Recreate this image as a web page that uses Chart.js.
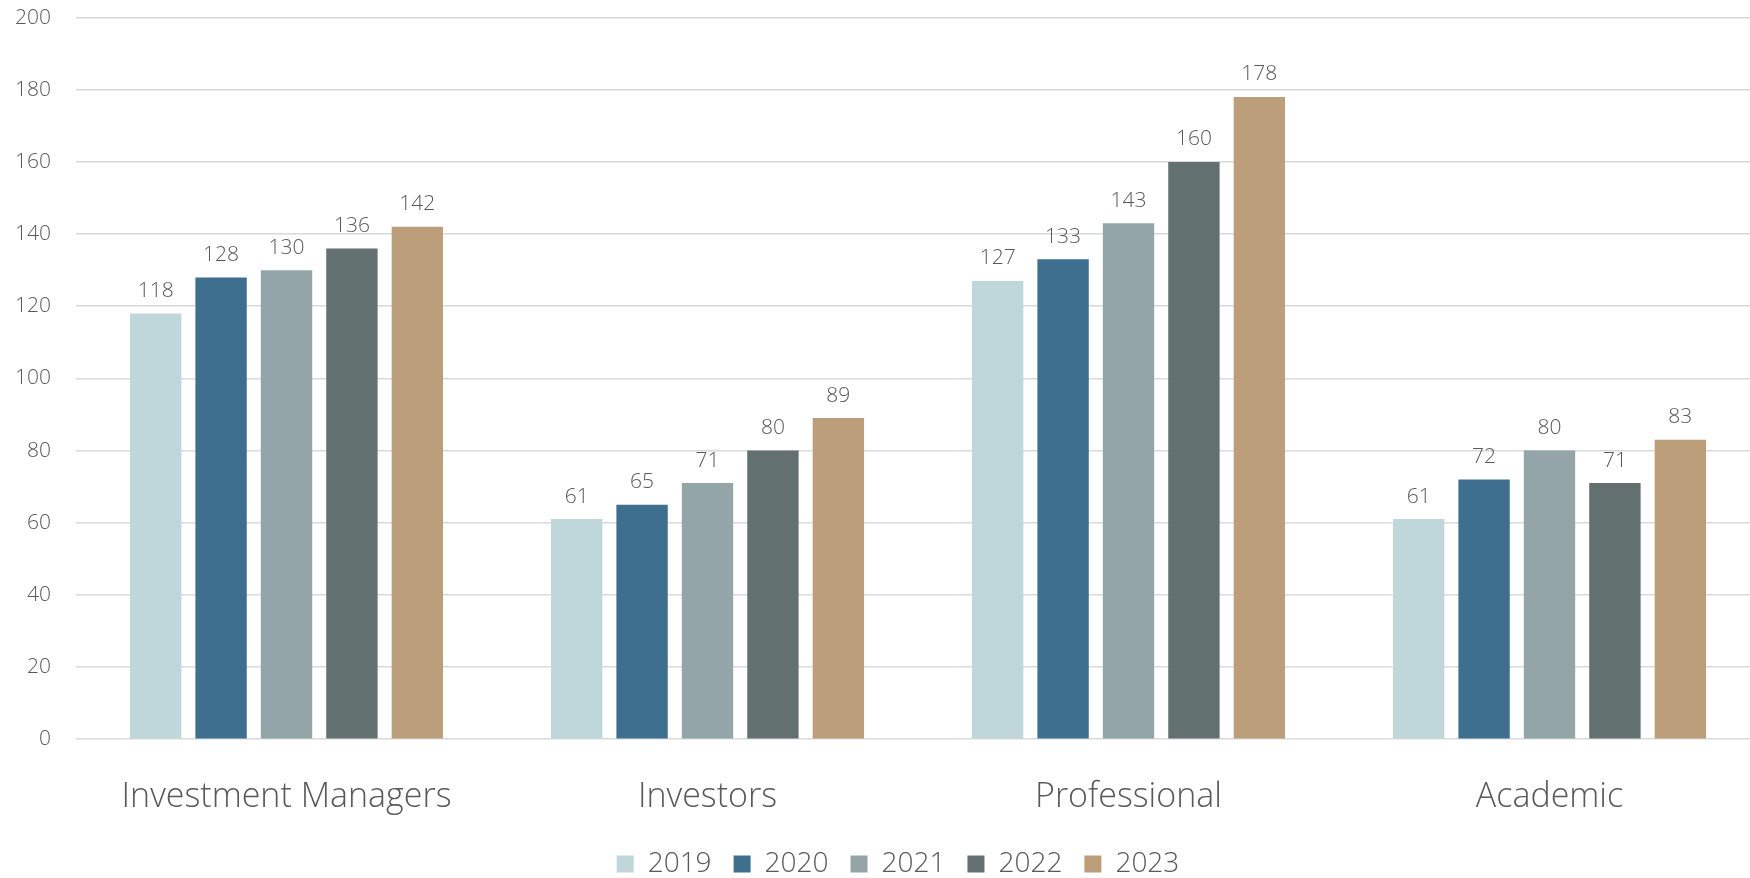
<!DOCTYPE html>
<html>
<head>
<meta charset="utf-8">
<title>Members by category</title>
<script src="https://cdn.jsdelivr.net/npm/chart.js@4"></script>
<style>
  html, body { margin: 0; padding: 0; background: #fff; overflow: hidden; }
  #wrap { width: 1750px; height: 878px; position: relative; overflow: hidden; }
  /* canvas runs a little past the page edges so the plot fills the frame */
  #inner { position: absolute; left: 0; top: -20px; width: 1760px; height: 908px; }
</style>
</head>
<body>
<div id="wrap"><div id="inner"><canvas id="chart"></canvas></div></div>
<script>
'use strict';

var categories = ['Investment Managers', 'Investors', 'Professional', 'Academic'];
var years = ['2019', '2020', '2021', '2022', '2023'];

var values2019 = [118, 61, 127, 61];
var values2020 = [128, 65, 133, 72];
var values2021 = [130, 71, 143, 80];
var values2022 = [136, 80, 160, 71];
var values2023 = [142, 89, 178, 83];

var yTicks = [0, 20, 40, 60, 80, 100, 120, 140, 160, 180, 200];

var colors = ['#BFD7DB', '#3E6F8E', '#93A5A8', '#62706F', '#BC9E7B'];
var textColor = '#595959';
var fontFamily = '"Open Sans", "Noto Sans", sans-serif';

var series = [values2019, values2020, values2021, values2022, values2023];

// writes the value above every bar
var valueLabels = {
  id: 'valueLabels',
  afterDatasetsDraw: function(chart) {
    var ctx = chart.ctx;
    ctx.save();
    ctx.font = '300 21px ' + fontFamily;
    ctx.fillStyle = textColor;
    ctx.textAlign = 'center';
    ctx.textBaseline = 'bottom';
    chart.data.datasets.forEach(function(ds, i) {
      var meta = chart.getDatasetMeta(i);
      meta.data.forEach(function(bar, j) {
        ctx.fillText(ds.data[j], bar.x, bar.y - 12);
      });
    });
    ctx.restore();
  }
};

// nudge the legend a bit to the right of the canvas centre
var legendShift = {
  id: 'legendShift',
  afterLayout: function(chart) {
    if (chart.legend) {
      chart.legend.left += 18;
      chart.legend.right += 18;
    }
  }
};

var datasets = years.map(function(y, i) {
  return {
    label: y,
    data: series[i],
    backgroundColor: colors[i],
    borderWidth: 0,
    categoryPercentage: 0.777,
    barPercentage: 0.785
  };
});

new Chart(document.getElementById('chart'), {
  type: 'bar',
  data: { labels: categories, datasets: datasets },
  plugins: [valueLabels, legendShift],
  options: {
    responsive: true,
    maintainAspectRatio: false,
    animation: false,
    layout: { padding: 0 },
    plugins: {
      tooltip: { enabled: false },
      legend: {
        position: 'bottom',
        labels: {
          color: textColor,
          font: { family: fontFamily, size: 28, weight: 300 },
          boxWidth: 17,
          boxHeight: 17,
          padding: 22
        }
      }
    },
    scales: {
      x: {
        // pull the legend up closer to the category names
        afterFit: function(axis) { axis.height -= 20; },
        grid: { display: false },
        border: { display: false },
        ticks: {
          color: textColor,
          font: { family: fontFamily, size: 34, weight: 300 },
          padding: 30
        }
      },
      y: {
        min: 0,
        max: 200,
        afterBuildTicks: function(axis) {
          axis.ticks = yTicks.map(function(v) { return { value: v }; });
        },
        afterFit: function(axis) { axis.width = 76; },
        grid: { color: '#D9D9D9', lineWidth: 1.5, drawTicks: false },
        border: { display: false },
        ticks: {
          color: textColor,
          font: { family: fontFamily, size: 21, weight: 300 },
          padding: 25
        }
      }
    }
  }
});
</script>
</body>
</html>
